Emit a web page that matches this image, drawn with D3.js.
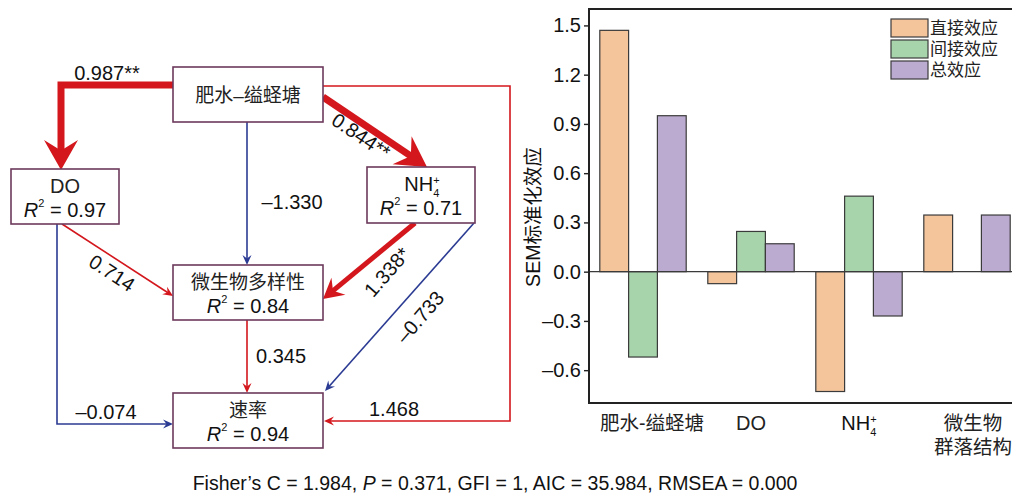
<!DOCTYPE html>
<html>
<head>
<meta charset="utf-8">
<script src="https://cdn.jsdelivr.net/npm/d3@7"></script>
<style>
  html, body { margin: 0; padding: 0; background: #fff; }
  svg { display: block; font-family: 'Liberation Sans', Arial, 'Noto Sans CJK SC', sans-serif; }
</style>
</head>
<body>
<svg id="chart" width="1012" height="495"></svg>
<script>
// ---- data: path diagram ----
const nodeNames = ['肥水–缢蛏塘', 'DO', 'NH4+', '微生物多样性', '速率'];
const nodeR2 = [null, 0.97, 0.71, 0.84, 0.94];
const pathFrom = [0, 0, 0, 0, 1, 1, 2, 2, 3];
const pathTo   = [1, 3, 2, 4, 3, 4, 3, 4, 4];
const pathCoef = [0.987, -1.330, 0.844, 1.468, 0.714, -0.074, 1.338, -0.733, 0.345];
const pathSig  = ['**', '', '**', '', '', '', '*', '', ''];
const fitText = ['Fisher’s C = 1.984, ', 'P', ' = 0.371, GFI = 1, AIC = 35.984, RMSEA = 0.000'];

// ---- data: bar chart ----
const groups = ['肥水-缢蛏塘', 'DO', 'NH4+', '微生物群落结构'];
const seriesNames = ['直接效应', '间接效应', '总效应'];
const directEff   = [1.47, -0.073, -0.73, 0.345];
const indirectEff = [-0.52, 0.245, 0.46, 0];
const totalEff    = [0.95, 0.17, -0.27, 0.345];
const yTicks = [-0.6, -0.3, 0.0, 0.3, 0.6, 0.9, 1.2, 1.5];

const red = '#d3171d';
const blue = '#2b3b93';
const boxStroke = '#6d3a5c';
const fills = ['#f4c49b', '#a7d4aa', '#bcabd1'];

let svg = d3.select('#chart');
svg.append('rect').attr('width', 1012).attr('height', 495).attr('fill', '#fff');

// ---------------- path diagram ----------------
let diagG = svg.append('g');

// node boxes (layout)
let boxes = [
    {x: 173, y: 67, w: 150, h: 55},
    {x: 11, y: 169, w: 108, h: 55},
    {x: 367, y: 167, w: 108, h: 56},
    {x: 173, y: 265, w: 150, h: 55},
    {x: 173, y: 393, w: 150, h: 55}
];

// routes for each path (layout), last point = arrow tip
let routes = [
    [[173, 85], [61, 85], [61, 170]],
    [[247, 122], [247, 265]],
    [[323, 97], [427, 167]],
    [[323, 86], [510, 86], [510, 421], [324, 421]],
    [[62, 224], [173, 296]],
    [[57, 224], [57, 424], [173, 424]],
    [[415, 223], [323, 299]],
    [[474, 223], [325, 391]],
    [[247, 320], [247, 393]]
];

// label placement (layout)
let labelPos = [
    {x: 107, y: 73, r: 0},
    {x: 292, y: 202, r: 0},
    {x: 361, y: 136, r: 34},
    {x: 394, y: 409, r: 0},
    {x: 112, y: 273, r: 33},
    {x: 106, y: 412, r: 0},
    {x: 387, y: 272, r: -49},
    {x: 420, y: 317, r: -49},
    {x: 281, y: 356, r: 0}
];

function strokeW(sig) {
    if (sig === '**') return 7;
    if (sig === '*') return 5;
    return 1.6;
}

function headSize(sig) {
    if (sig === '**') return {len: 30, wid: 34};
    if (sig === '*') return {len: 20, wid: 22};
    return {len: 10, wid: 9};
}

function fmtCoef(v) {
    return (v < 0 ? '\u2013' : '') + Math.abs(v).toFixed(3);
}

// writes NH4+ with stacked sub/superscript into a text element
function nh4(textSel, small) {
    textSel.append('tspan').text('NH');
    textSel.append('tspan').attr('font-size', small).attr('dy', 6).text('4');
    textSel.append('tspan').attr('font-size', small).attr('dx', -6).attr('dy', -13).text('+');
}

for (let i = 0; i < pathCoef.length; i++) {
    let pts = routes[i];
    let color = pathCoef[i] < 0 ? blue : red;
    let hs = headSize(pathSig[i]);
    let tip = pts[pts.length - 1];
    let prev = pts[pts.length - 2];
    let ang = Math.atan2(tip[1] - prev[1], tip[0] - prev[0]);
    let ux = Math.cos(ang), uy = Math.sin(ang);
    // shorten the line so it ends inside the head
    let back = hs.len * 0.6;
    let linePts = pts.slice(0, -1).concat([[tip[0] - ux * back, tip[1] - uy * back]]);

    diagG.append('path')
        .attr('d', d3.line()(linePts))
        .attr('fill', 'none')
        .attr('stroke', color)
        .attr('stroke-width', strokeW(pathSig[i]))
        .attr('stroke-linejoin', 'miter');

    // barbed arrow head
    let px = -uy, py = ux;
    let bx = tip[0] - ux * hs.len, by = tip[1] - uy * hs.len;
    let nx = tip[0] - ux * hs.len * 0.65, ny = tip[1] - uy * hs.len * 0.65;
    let head = [
        [tip[0], tip[1]],
        [bx + px * hs.wid / 2, by + py * hs.wid / 2],
        [nx, ny],
        [bx - px * hs.wid / 2, by - py * hs.wid / 2]
    ];
    diagG.append('path')
        .attr('d', 'M' + head.join('L') + 'Z')
        .attr('fill', color);

    let lp = labelPos[i];
    diagG.append('text')
        .attr('transform', 'translate(' + [lp.x, lp.y] + ') rotate(' + lp.r + ')')
        .attr('text-anchor', 'middle')
        .attr('dominant-baseline', 'central')
        .attr('font-size', '20px')
        .attr('fill', '#111')
        .text(fmtCoef(pathCoef[i]) + pathSig[i]);
}

// boxes drawn after the lines
for (let i = 0; i < nodeNames.length; i++) {
    let b = boxes[i];
    diagG.append('rect')
        .attr('x', b.x).attr('y', b.y)
        .attr('width', b.w).attr('height', b.h)
        .attr('fill', '#fff')
        .attr('stroke', boxStroke)
        .attr('stroke-width', 1.6);

    let cx = b.x + b.w / 2;
    let hasR = nodeR2[i] !== null;
    let nameY = hasR ? b.y + 17 : b.y + b.h / 2 + 1;

    if (nodeNames[i] === 'NH4+') {
        let t = diagG.append('text')
            .attr('x', cx + 1).attr('y', b.y + 24)
            .attr('text-anchor', 'middle')
            .attr('font-size', '20px')
            .attr('fill', '#111');
        nh4(t, '11px');
    } else {
        diagG.append('text')
            .attr('x', cx).attr('y', nameY)
            .attr('text-anchor', 'middle')
            .attr('dominant-baseline', 'central')
            .attr('font-size', /[A-Z]/.test(nodeNames[i]) ? '20px' : '19px')
            .attr('fill', '#222')
            .text(nodeNames[i]);
    }

    if (hasR) {
        let rt = diagG.append('text')
            .attr('x', cx).attr('y', b.y + 41)
            .attr('text-anchor', 'middle')
            .attr('dominant-baseline', 'central')
            .attr('font-size', '20px')
            .attr('fill', '#111');
        rt.append('tspan').attr('font-style', 'italic').text('R');
        rt.append('tspan').attr('font-size', '11px').attr('dy', -7).text('2');
        rt.append('tspan').attr('dy', 7).text(' = ' + nodeR2[i].toFixed(2));
    }
}

// fit statistics
let ft = svg.append('text')
    .attr('x', 495).attr('y', 490)
    .attr('text-anchor', 'middle')
    .attr('font-size', '19.5px')
    .attr('fill', '#111');
ft.append('tspan').text(fitText[0]);
ft.append('tspan').attr('font-style', 'italic').text(fitText[1]);
ft.append('tspan').text(fitText[2]);

// ---------------- bar chart ----------------
let plot = {l: 589, r: 1021, t: 9, b: 403};
let series = [directEff, indirectEff, totalEff];

let x0 = d3.scaleBand().domain(d3.range(groups.length))
    .range([plot.l, plot.r]).paddingInner(0.2).paddingOuter(0.1);
let x1 = d3.scaleBand().domain(d3.range(series.length))
    .range([0, x0.bandwidth()]);
let y = d3.scaleLinear().domain([-0.8, 1.6]).range([plot.b, plot.t]);

let barG = svg.append('g');
for (let s = 0; s < series.length; s++) {
    barG.selectAll('.bar' + s)
        .data(series[s])
        .enter()
        .filter(d => d !== 0)
        .append('rect')
        .attr('x', (d, i) => x0(i) + x1(s))
        .attr('y', d => y(Math.max(0, d)))
        .attr('width', x1.bandwidth())
        .attr('height', d => Math.abs(y(d) - y(0)))
        .attr('fill', fills[s])
        .attr('stroke', '#3b3b3b')
        .attr('stroke-width', 1.2);
}

// zero line
svg.append('line')
    .attr('x1', plot.l).attr('x2', plot.r)
    .attr('y1', y(0)).attr('y2', y(0))
    .attr('stroke', '#3b3b3b').attr('stroke-width', 1.4);

// frame: top and bottom
svg.append('line').attr('x1', plot.l).attr('x2', plot.r)
    .attr('y1', plot.t).attr('y2', plot.t)
    .attr('stroke', '#222').attr('stroke-width', 2);
svg.append('line').attr('x1', plot.l).attr('x2', plot.r)
    .attr('y1', plot.b).attr('y2', plot.b)
    .attr('stroke', '#222').attr('stroke-width', 2);

// y axis
let yAxis = d3.axisLeft(y)
    .tickValues(yTicks)
    .tickSize(5)
    .tickPadding(3)
    .tickSizeOuter(0)
    .tickFormat(d => (d < 0 ? '\u2013' : '') + Math.abs(d).toFixed(1));
let yAxisG = svg.append('g')
    .attr('transform', 'translate(' + plot.l + ',0)')
    .call(yAxis);
yAxisG.select('.domain').attr('stroke', '#222').attr('stroke-width', 2)
    .attr('d', 'M0,' + (plot.t - 1) + 'V' + (plot.b + 1));
yAxisG.selectAll('.tick line').attr('stroke', '#222').attr('stroke-width', 1.4);
yAxisG.selectAll('.tick text')
    .attr('font-size', '20px')
    .attr('font-family', "'Liberation Sans', Arial, sans-serif")
    .attr('fill', '#111');

// y title
svg.append('text')
    .attr('transform', 'translate(533,217) rotate(-90)')
    .attr('text-anchor', 'middle')
    .attr('dominant-baseline', 'central')
    .attr('font-size', '19.5px')
    .attr('fill', '#111')
    .text('SEM标准化效应');

// x labels
for (let i = 0; i < groups.length; i++) {
    let cx = x0(i) + x0.bandwidth() / 2;
    if (groups[i] === 'NH4+') {
        let t = svg.append('text').attr('x', cx).attr('y', 430)
            .attr('text-anchor', 'middle')
            .attr('font-size', '20px').attr('fill', '#111');
        nh4(t, '11px');
    } else if (groups[i].length > 6) {
        svg.append('text').attr('x', cx + 6).attr('y', 423)
            .attr('text-anchor', 'middle').attr('dominant-baseline', 'central')
            .attr('font-size', '19.5px').attr('fill', '#222').text(groups[i].slice(0, 3));
        svg.append('text').attr('x', cx + 6).attr('y', 447)
            .attr('text-anchor', 'middle').attr('dominant-baseline', 'central')
            .attr('font-size', '19.5px').attr('fill', '#222').text(groups[i].slice(3));
    } else {
        svg.append('text').attr('x', i === 0 ? cx + 9 : cx).attr('y', 423)
            .attr('text-anchor', 'middle').attr('dominant-baseline', 'central')
            .attr('font-size', i === 0 ? '19.5px' : '20px').attr('fill', '#222').text(groups[i]);
    }
}

// legend
let legG = svg.append('g').attr('transform', 'translate(891,19)');
seriesNames.forEach(function(name, i) {
    legG.append('rect')
        .attr('x', 0).attr('y', i * 21)
        .attr('width', 37).attr('height', 18)
        .attr('fill', fills[i])
        .attr('stroke', '#3b3b3b').attr('stroke-width', 1.2);
    legG.append('text')
        .attr('x', 39).attr('y', i * 21 + 9)
        .attr('dominant-baseline', 'central')
        .attr('font-size', '17px')
        .attr('fill', '#222')
        .text(name);
});
</script>
</body>
</html>
